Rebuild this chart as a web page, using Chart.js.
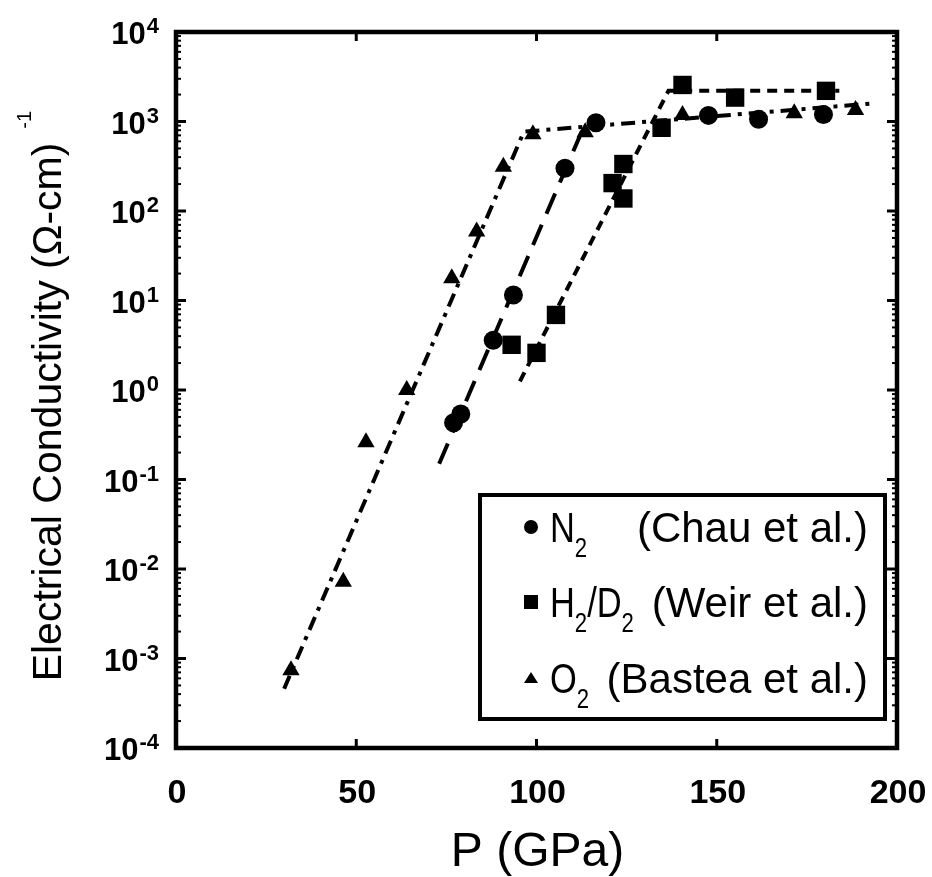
<!DOCTYPE html>
<html>
<head>
<meta charset="utf-8">
<script src="https://cdn.jsdelivr.net/npm/chart.js@4.4.1/dist/chart.umd.min.js"></script>
<style>
  html, body { margin: 0; padding: 0; background: #fff; }
  #wrap { width: 932px; height: 877px; }
</style>
</head>
<body>
<div id="wrap"><canvas id="cond" width="932" height="877"></canvas></div>
<script>
// ---- data (P in GPa, conductivity in (Ohm-cm)^-1) ----
// N2 (Chau et al.) - circles
const n2P     = [77, 79, 88, 93.6, 107.9, 116.5, 147.7, 161.6, 179.6];
const n2Sigma = [0.43, 0.54, 3.6, 11.5, 300, 970, 1170, 1060, 1200];

// H2/D2 (Weir et al.) - squares
const h2P     = [93.1, 100.0, 105.4, 121.1, 124.1, 124.1, 134.7, 140.5, 155.1, 180.3];
const h2Sigma = [3.2, 2.6, 6.9, 205, 138, 335, 850, 2560, 1850, 2200];

// O2 (Bastea et al.) - triangles
const o2P     = [31.9, 46.4, 52.7, 64.0, 76.5, 83.4, 90.8, 99.0, 113.5, 140.5, 171.5, 188.5];
const o2Sigma = [0.00074, 0.0072, 0.26, 1.0, 17.7, 59, 312, 720, 760, 1180, 1240, 1340];

// guide lines drawn through each set
const n2FitP     = [73, 113];
const n2FitSigma = [0.15, 850];
const h2FitP     = [95.4, 136.6, 184];
const h2FitSigma = [1.25, 2200, 2200];
const o2FitP     = [30, 96.5, 194];
const o2FitSigma = [0.00046, 770, 1600];

// axes
const xTicks = [0, 50, 100, 150, 200];
const yExponents = [-4, -3, -2, -1, 0, 1, 2, 3, 4];

const FONT = '"Liberation Sans", Arial, Helvetica, sans-serif';

const toPts = (xs, ys) => xs.map((v, i) => ({ x: v, y: ys[i] }));

// frame, inward ticks, tick labels, titles and legend box
const paperAxes = {
    id: 'paperAxes',
    afterDatasetsDraw(chart) {
        const { ctx, chartArea: a, scales: { x, y } } = chart;
        const seg = (x1, y1, x2, y2) => { ctx.beginPath(); ctx.moveTo(x1, y1); ctx.lineTo(x2, y2); ctx.stroke(); };
        ctx.save();
        ctx.strokeStyle = '#000';
        ctx.fillStyle = '#000';

        // x ticks top + bottom
        ctx.lineWidth = 3;
        xTicks.forEach(v => {
            const px = x.getPixelForValue(v);
            if (v > x.min && v < x.max) {
                seg(px, a.bottom, px, a.bottom - 9);
                seg(px, a.top, px, a.top + 9);
            }
        });

        // y ticks (decades + minor) left + right
        yExponents.forEach(e => {
            for (let m = 1; m < 10; m++) {
                const v = m * Math.pow(10, e);
                if (v > y.max) break;
                const py = y.getPixelForValue(v);
                const len = m === 1 ? 10 : 5;
                ctx.lineWidth = m === 1 ? 3 : 2;
                seg(a.left, py, a.left + len, py);
                seg(a.right, py, a.right - len, py);
            }
        });

        // frame
        ctx.lineWidth = 4.5;
        ctx.strokeRect(a.left, a.top, a.right - a.left, a.bottom - a.top);

        // x tick labels
        ctx.font = `bold 34px ${FONT}`;
        ctx.textAlign = 'center';
        ctx.textBaseline = 'alphabetic';
        xTicks.forEach(v => ctx.fillText(String(v), x.getPixelForValue(v) + 1, a.bottom + 55));

        // y tick labels 10^n
        const labRight = a.left - 17;
        yExponents.forEach(e => {
            const py = y.getPixelForValue(Math.pow(10, e));
            const ex = String(e);
            ctx.font = `bold 22px ${FONT}`;
            const ew = ctx.measureText(ex).width;
            ctx.textAlign = 'left';
            ctx.fillText(ex, labRight - ew, py + 1);
            ctx.font = `bold 31px ${FONT}`;
            ctx.textAlign = 'right';
            ctx.fillText('10', labRight - ew - 1, py + 12);
        });

        // x title
        ctx.font = `48px ${FONT}`;
        ctx.textAlign = 'center';
        ctx.fillText('P (GPa)', (a.left + a.right) / 2 + 1, 866);

        // y title (rotated) with superscript -1
        const yTitle = 'Electrical Conductivity (\u03A9-cm)';
        ctx.save();
        ctx.translate(61, 412);
        ctx.rotate(-Math.PI / 2);
        ctx.font = `41px ${FONT}`;
        const tw = ctx.measureText(yTitle).width;
        ctx.textAlign = 'left';
        ctx.fillText(yTitle, -tw / 2, 0);
        ctx.font = `20px ${FONT}`;
        ctx.fillText('-1', tw / 2 + 14, -30);
        ctx.restore();

        // legend box
        const box = { l: 480, t: 495, r: 885, b: 719 };
        ctx.fillStyle = '#fff';
        ctx.fillRect(box.l, box.t, box.r - box.l, box.b - box.t);
        ctx.fillStyle = '#000';
        ctx.lineWidth = 4;
        ctx.strokeRect(box.l, box.t, box.r - box.l, box.b - box.t);

        const rows = [
            { mark: 'circle', y: 527, name: [['N', 0], ['2', 1]], cite: '(Chau et al.)' },
            { mark: 'rect', y: 602, name: [['H', 0], ['2', 1], ['/', 0], ['D', 0], ['2', 1]], cite: '(Weir et al.)' },
            { mark: 'triangle', y: 678, name: [['O', 0], ['2', 1]], cite: '(Bastea et al.)' }
        ];
        rows.forEach(r => {
            const mx = 531;
            ctx.beginPath();
            if (r.mark === 'circle') ctx.arc(mx, r.y, 7, 0, Math.PI * 2);
            if (r.mark === 'rect') ctx.rect(mx - 7, r.y - 7, 14, 14);
            if (r.mark === 'triangle') { ctx.moveTo(mx, r.y - 6); ctx.lineTo(mx + 7, r.y + 5); ctx.lineTo(mx - 7, r.y + 5); ctx.closePath(); }
            ctx.fill();

            // species name, slightly condensed like the scanned type
            const base = r.y + 15;
            ctx.save();
            ctx.translate(550, 0);
            ctx.scale(0.82, 1);
            let cx = 0;
            ctx.textAlign = 'left';
            r.name.forEach(([s, sub]) => {
                ctx.font = sub ? `27px ${FONT}` : `42px ${FONT}`;
                ctx.fillText(s, cx, sub ? base + 15 : base);
                cx += ctx.measureText(s).width;
            });
            ctx.restore();

            ctx.font = `42px ${FONT}`;
            ctx.textAlign = 'right';
            ctx.fillText(r.cite, 868, base);
        });

        ctx.restore();
    }
};

const pointSet = (label, xs, ys, style, r) => ({
    label, data: toPts(xs, ys), showLine: false,
    pointStyle: style, pointRadius: r, pointHoverRadius: r,
    backgroundColor: '#000', borderColor: '#000', borderWidth: 0
});
const guide = (label, xs, ys, dash) => ({
    label, data: toPts(xs, ys), showLine: true, pointRadius: 0,
    borderColor: '#000', borderWidth: 4, borderDash: dash, fill: false, tension: 0
});

new Chart(document.getElementById('cond').getContext('2d'), {
    type: 'scatter',
    data: {
        datasets: [
            pointSet('N2 (Chau et al.)', n2P, n2Sigma, 'circle', 9.5),
            pointSet('H2/D2 (Weir et al.)', h2P, h2Sigma, 'rect', 13),
            pointSet('O2 (Bastea et al.)', o2P, o2Sigma, 'triangle', 10),
            guide('N2 fit', n2FitP, n2FitSigma, [22, 12]),
            guide('H2 fit', h2FitP, h2FitSigma, [10, 7]),
            guide('O2 fit', o2FitP, o2FitSigma, [14, 7, 4, 7])
        ]
    },
    options: {
        responsive: false,
        animation: false,
        devicePixelRatio: 1,
        layout: { padding: { left: 176, right: 35, top: 32, bottom: 129 } },
        plugins: { legend: { display: false }, tooltip: { enabled: false } },
        scales: {
            x: { type: 'linear', min: 0, max: 200, display: false },
            y: { type: 'logarithmic', min: 1e-4, max: 1e4, display: false }
        }
    },
    plugins: [paperAxes]
});
</script>
</body>
</html>
